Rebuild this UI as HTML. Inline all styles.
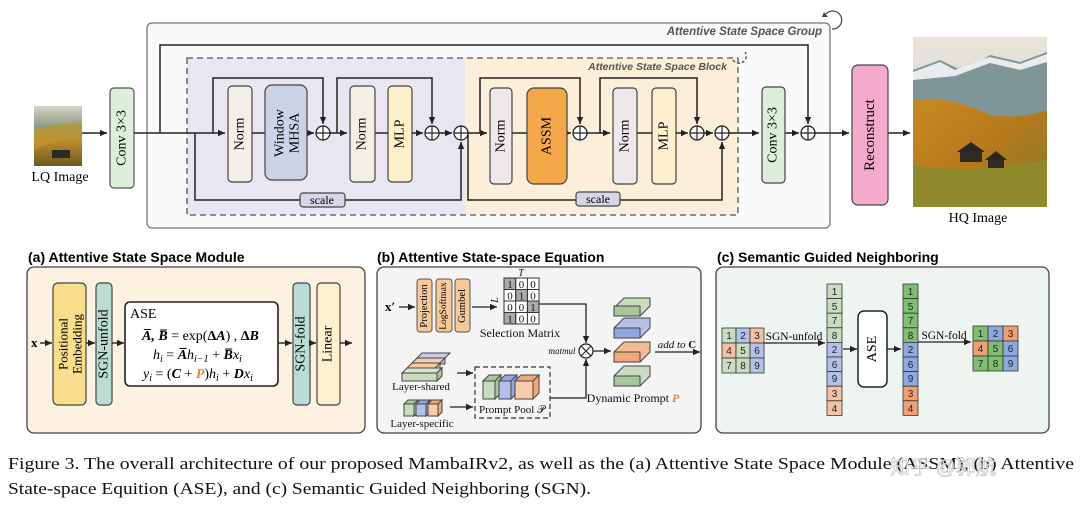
<!DOCTYPE html>
<html><head><meta charset="utf-8"><style>
html,body{margin:0;padding:0;background:#fff;}
svg{display:block;}
.s{font-family:"Liberation Serif",serif;}
.h{font-family:"Liberation Sans",sans-serif;font-weight:bold;}
</style></head><body>
<svg width="1080" height="507" viewBox="0 0 1080 507" xmlns="http://www.w3.org/2000/svg">
<defs>
<marker id="a" markerWidth="8" markerHeight="8" refX="7" refY="4" orient="auto" markerUnits="userSpaceOnUse"><path d="M0,0.8 L7,4 L0,7.2 z" fill="#222"/></marker>
<linearGradient id="sky" x1="0" y1="0" x2="0" y2="1"><stop offset="0" stop-color="#e8e4dc"/><stop offset="1" stop-color="#c9cfcf"/></linearGradient>
<linearGradient id="hill" x1="0" y1="0" x2="1" y2="1"><stop offset="0" stop-color="#c78a22"/><stop offset="0.5" stop-color="#b67a1c"/><stop offset="1" stop-color="#7d7a2a"/></linearGradient>
<linearGradient id="lq" x1="0" y1="0" x2="0" y2="1"><stop offset="0" stop-color="#d8d4c8"/><stop offset="0.35" stop-color="#8a9a80"/><stop offset="0.6" stop-color="#b98a2a"/><stop offset="1" stop-color="#6b5a22"/></linearGradient>
</defs>

<!-- LQ image -->
<rect x="34" y="106" width="48" height="60" fill="url(#lq)"/>
<path d="M34,130 Q50,125 82,122 L82,140 Q60,138 34,150 z" fill="#c0962e" opacity="0.7"/>
<rect x="52" y="150" width="18" height="8" fill="#2c2a26"/>
<text x="60" y="181" class="s" font-size="14" text-anchor="middle">LQ Image</text>
<line x1="82" y1="133" x2="107" y2="133" stroke="#222" stroke-width="1.5" marker-end="url(#a)"/>

<!-- Conv1 -->
<rect x="110" y="88" width="24" height="100" rx="4" fill="#dcefd8" stroke="#555" stroke-width="1.2"/>
<text class="s" font-size="14" text-anchor="middle" dominant-baseline="central" transform="translate(122,138) rotate(-90)">Conv 3×3</text>

<!-- Group box -->
<rect x="147" y="23" width="683" height="205" rx="5" fill="#fafafa" stroke="#777" stroke-width="1.3"/>
<text x="822" y="35" class="h" font-style="italic" font-size="11.5" fill="#555" text-anchor="end">Attentive State Space Group</text>
<path d="M826,14 A9,9 0 1 1 832,29" fill="none" stroke="#444" stroke-width="1.2"/>
<path d="M824,12 l4,5 l-6,0z" fill="#444"/>

<!-- Block -->
<rect x="187" y="58" width="278" height="157" fill="#e8e6f1"/>
<rect x="465" y="58" width="273" height="157" fill="#fcefd9"/>
<rect x="187" y="58" width="551" height="157" fill="none" stroke="#555" stroke-width="1.3" stroke-dasharray="6,4"/>
<text x="727" y="70" class="h" font-style="italic" font-size="10.5" fill="#555" text-anchor="end">Attentive State Space Block</text>
<path d="M733,60 A7,7 0 1 0 745,52" fill="none" stroke="#444" stroke-width="1.2" stroke-dasharray="3,2"/>

<!-- main line -->
<g stroke="#222" stroke-width="1.5" fill="none">
<line x1="134" y1="133" x2="225" y2="133" marker-end="url(#a)"/>
<path d="M160,133 V45 H808 V124" marker-end="url(#a)"/>
<path d="M213,133 V78 H323 V124" marker-end="url(#a)"/>
<line x1="252" y1="133" x2="265" y2="133"/>
<line x1="307" y1="133" x2="314" y2="133" marker-end="url(#a)"/>
<line x1="330" y1="133" x2="347" y2="133" marker-end="url(#a)"/>
<path d="M337,133 V78 H432 V124" marker-end="url(#a)"/>
<line x1="375" y1="133" x2="388" y2="133"/>
<line x1="412" y1="133" x2="423" y2="133" marker-end="url(#a)"/>
<line x1="439" y1="133" x2="452" y2="133" marker-end="url(#a)"/>
<path d="M195,133 V200 H461 V142" marker-end="url(#a)"/>
<line x1="468" y1="133" x2="487" y2="133" marker-end="url(#a)"/>
<path d="M480,133 V78 H580 V124" marker-end="url(#a)"/>
<path d="M468,133 V200 H722 V142" marker-end="url(#a)"/>
<line x1="512" y1="133" x2="528" y2="133"/>
<line x1="567" y1="133" x2="571" y2="133" marker-end="url(#a)"/>
<line x1="587" y1="133" x2="610" y2="133" marker-end="url(#a)"/>
<path d="M600,133 V78 H697 V124" marker-end="url(#a)"/>
<line x1="637" y1="133" x2="652" y2="133"/>
<line x1="676" y1="133" x2="688" y2="133" marker-end="url(#a)"/>
<line x1="704" y1="133" x2="713" y2="133" marker-end="url(#a)"/>
<line x1="729" y1="133" x2="759" y2="133" marker-end="url(#a)"/>
<line x1="785" y1="133" x2="799" y2="133" marker-end="url(#a)"/>
<line x1="815" y1="133" x2="849" y2="133" marker-end="url(#a)"/>
<line x1="888" y1="133" x2="910" y2="133" marker-end="url(#a)"/>
</g>
<!-- plus circles -->
<g fill="#fff" stroke="#222" stroke-width="1.3">
<circle cx="323" cy="133" r="7"/><circle cx="432" cy="133" r="7"/><circle cx="461" cy="133" r="7"/>
<circle cx="580" cy="133" r="7"/><circle cx="697" cy="133" r="7"/><circle cx="722" cy="133" r="7"/><circle cx="808" cy="133" r="7"/>
</g>
<g stroke="#222" stroke-width="1.2">
<path d="M316,133h14M323,126v14M425,133h14M432,126v14M454,133h14M461,126v14M573,133h14M580,126v14M690,133h14M697,126v14M715,133h14M722,126v14M801,133h14M808,126v14"/>
</g>

<!-- purple blocks -->
<g stroke="#444" stroke-width="1.2">
<rect x="228" y="86" width="24" height="96" rx="4" fill="#f3efe4"/>
<rect x="265" y="85" width="42" height="95" rx="7" fill="#cdd3e6"/>
<rect x="350" y="86" width="25" height="96" rx="4" fill="#f3efe4"/>
<rect x="388" y="86" width="24" height="96" rx="4" fill="#fdefc8"/>
<rect x="490" y="88" width="22" height="96" rx="4" fill="#ede8ea"/>
<rect x="527" y="88" width="40" height="96" rx="7" fill="#f5a84a"/>
<rect x="613" y="88" width="24" height="96" rx="4" fill="#ede8ea"/>
<rect x="652" y="88" width="24" height="96" rx="4" fill="#fdefcc"/>
<rect x="762" y="87" width="23" height="96" rx="4" fill="#dcefd8"/>
<rect x="852" y="65" width="36" height="140" rx="6" fill="#f5a9cb"/>
<rect x="300" y="193" width="45" height="14" rx="3" fill="#d9d4ea"/>
<rect x="576" y="192" width="44" height="14" rx="3" fill="#d9d4ea"/>
</g>
<g class="s" font-size="14" text-anchor="middle" dominant-baseline="central">
<text transform="translate(240,134) rotate(-90)">Norm</text>
<text transform="translate(280,133) rotate(-90)">Window</text>
<text transform="translate(295,133) rotate(-90)">MHSA</text>
<text transform="translate(362,134) rotate(-90)">Norm</text>
<text transform="translate(400,134) rotate(-90)">MLP</text>
<text transform="translate(501,136) rotate(-90)">Norm</text>
<text transform="translate(547,136) rotate(-90)">ASSM</text>
<text transform="translate(625,136) rotate(-90)">Norm</text>
<text transform="translate(664,136) rotate(-90)">MLP</text>
<text transform="translate(773,135) rotate(-90)">Conv 3×3</text>
<text transform="translate(870,135) rotate(-90)" font-size="15">Reconstruct</text>
<text x="322" y="200" font-size="12">scale</text>
<text x="598" y="199" font-size="12">scale</text>
</g>

<!-- HQ image -->
<rect x="913" y="37" width="134" height="170" fill="url(#sky)"/>
<path d="M913,70 L940,60 L965,72 L990,55 L1020,62 L1047,52 L1047,140 L913,140 z" fill="#7e9698"/>
<path d="M913,72 L940,62 L955,70 L990,57 L1020,64 L1047,54 L1047,62 L1020,70 L990,63 L955,76 L913,80z" fill="#e9ecec"/>
<path d="M913,100 Q950,95 990,115 Q1020,120 1047,110 L1047,207 L913,207 z" fill="url(#hill)"/>
<path d="M913,165 Q970,175 1047,160 L1047,207 L913,207z" fill="#8e8a2c"/>
<rect x="960" y="150" width="22" height="12" fill="#2f2a24"/>
<path d="M957,152 L971,142 L985,152z" fill="#2a2622"/>
<rect x="988" y="158" width="16" height="10" fill="#2f2a24"/>
<path d="M985,160 L996,151 L1007,160z" fill="#2a2622"/>
<text x="978" y="222" class="s" font-size="14" text-anchor="middle">HQ Image</text>

<!-- Panel titles -->
<text x="28" y="262" class="h" font-size="14">(a) Attentive State Space Module</text>
<text x="377" y="262" class="h" font-size="14">(b) Attentive State-space Equation</text>
<text x="717" y="262" class="h" font-size="14">(c) Semantic Guided Neighboring</text>

<!-- (a) -->
<rect x="27" y="267" width="338" height="166" rx="7" fill="#fdf1e2" stroke="#444" stroke-width="1.3"/>
<g stroke="#444" stroke-width="1.2">
<rect x="53" y="283" width="33" height="122" rx="5" fill="#f8dd8a"/>
<rect x="96" y="283" width="16" height="122" rx="4" fill="#b9ddd2"/>
<rect x="125" y="302" width="153" height="84" rx="5" fill="#fff" stroke="#222" stroke-width="1.6"/>
<rect x="293" y="283" width="17" height="122" rx="4" fill="#b9ddd2"/>
<rect x="317" y="283" width="23" height="122" rx="4" fill="#fdf2cd"/>
</g>
<g stroke="#222" stroke-width="1.4">
<line x1="40" y1="343" x2="52" y2="343" marker-end="url(#a)"/>
<line x1="86" y1="343" x2="95" y2="343" marker-end="url(#a)"/>
<line x1="112" y1="343" x2="124" y2="343" marker-end="url(#a)"/>
<line x1="278" y1="343" x2="292" y2="343" marker-end="url(#a)"/>
<line x1="310" y1="343" x2="316" y2="343" marker-end="url(#a)"/>
<line x1="340" y1="343" x2="352" y2="343" marker-end="url(#a)"/>
</g>
<text x="31" y="347" class="s" font-size="13" font-weight="bold">x</text>
<g class="s" font-size="13" text-anchor="middle" dominant-baseline="central">
<text transform="translate(63,344) rotate(-90)">Positional</text>
<text transform="translate(77,344) rotate(-90)">Embedding</text>
<text transform="translate(104,344) rotate(-90)" font-size="14">SGN-unfold</text>
<text transform="translate(301,344) rotate(-90)" font-size="14">SGN-fold</text>
<text transform="translate(328,344) rotate(-90)" font-size="14">Linear</text>
</g>
<g class="s" font-size="14">
<text x="130" y="318">ASE</text>
<text x="142" y="340"><tspan font-weight="bold" font-style="italic">A̅, B̅</tspan> = exp(<tspan font-weight="bold">Δ</tspan><tspan font-style="italic" font-weight="bold">A</tspan>) , <tspan font-weight="bold">Δ</tspan><tspan font-weight="bold" font-style="italic">B</tspan></text>
<text x="153" y="359" font-style="italic">h<tspan font-size="10" dy="3">i</tspan><tspan dy="-3" font-style="normal"> = </tspan><tspan font-weight="bold">A̅</tspan>h<tspan font-size="10" dy="3">i−1</tspan><tspan dy="-3" font-style="normal"> + </tspan><tspan font-weight="bold">B̅</tspan>x<tspan font-size="10" dy="3">i</tspan></text>
<text x="143" y="378" font-style="italic">y<tspan font-size="10" dy="3">i</tspan><tspan dy="-3" font-style="normal"> = (</tspan><tspan font-weight="bold">C</tspan><tspan font-style="normal"> + </tspan><tspan font-weight="bold" fill="#e08a3c">P</tspan><tspan font-style="normal">)</tspan>h<tspan font-size="10" dy="3">i</tspan><tspan dy="-3" font-style="normal"> + </tspan><tspan font-weight="bold">D</tspan>x<tspan font-size="10" dy="3">i</tspan></text>
</g>

<!-- (b) -->
<rect x="377" y="267" width="324" height="166" rx="7" fill="#f4f4f4" stroke="#444" stroke-width="1.3"/>
<text x="385" y="311" class="s" font-size="13" font-weight="bold">x′</text>
<g stroke="#222" stroke-width="1.3">
<line x1="399" y1="307" x2="415" y2="307" marker-end="url(#a)"/>
<line x1="472" y1="307" x2="497" y2="307" marker-end="url(#a)"/>
<path d="M539,304 H586 V343" fill="none" marker-end="url(#a)"/>
<path d="M550,398 H586 V359" fill="none" marker-end="url(#a)"/>
<line x1="593" y1="351" x2="611" y2="351" marker-end="url(#a)"/>
<line x1="655" y1="352" x2="700" y2="352" marker-end="url(#a)"/>
<line x1="457" y1="373" x2="473" y2="373" marker-end="url(#a)"/>
<line x1="450" y1="407" x2="473" y2="407" marker-end="url(#a)"/>
</g>
<g stroke="#555" stroke-width="1">
<rect x="417" y="279" width="15" height="53" rx="3" fill="#f7c898"/>
<rect x="436" y="279" width="16" height="53" rx="3" fill="#f7c898"/>
<rect x="455" y="279" width="15" height="53" rx="3" fill="#f7c898"/>
</g>
<g class="s" font-size="10.5" text-anchor="middle" dominant-baseline="central">
<text transform="translate(424.5,306) rotate(-90)">Projection</text>
<text transform="translate(444,306) rotate(-90)" font-size="9.5">LogSoftmax</text>
<text transform="translate(462.5,306) rotate(-90)">Gumbel</text>
</g>
<!-- matrix -->
<g stroke="#333" stroke-width="1" font-family="Liberation Serif,serif" font-size="11" text-anchor="middle">
<rect x="504" y="278" width="35" height="46" fill="#fff"/>
<rect x="504" y="278" width="11.7" height="11.5" fill="#aaa"/>
<rect x="515.7" y="289.5" width="11.7" height="11.5" fill="#aaa"/>
<rect x="527.4" y="301" width="11.6" height="11.5" fill="#aaa"/>
<rect x="504" y="312.5" width="11.7" height="11.5" fill="#aaa"/>
<path d="M515.7,278V324M527.4,278V324M504,289.5H539M504,301H539M504,312.5H539" fill="none"/>
</g>
<g class="s" font-size="11" text-anchor="middle" fill="#111">
<text x="510" y="288">1</text><text x="521.5" y="288">0</text><text x="533" y="288">0</text>
<text x="510" y="299.5">0</text><text x="521.5" y="299.5">1</text><text x="533" y="299.5">0</text>
<text x="510" y="311">0</text><text x="521.5" y="311">0</text><text x="533" y="311">1</text>
<text x="510" y="322.5">1</text><text x="521.5" y="322.5">0</text><text x="533" y="322.5">0</text>
<text x="521" y="276" font-style="italic" font-size="10">T</text>
<text transform="translate(498,300) rotate(-90)" font-style="italic" font-size="10">L</text>
<text x="520" y="337" font-size="12">Selection Matrix</text>
<text x="562" y="354" font-style="italic" font-size="9">matmul</text>
<text x="633" y="402" font-size="12">Dynamic Prompt <tspan fill="#e08a3c" font-weight="bold" font-style="italic">P</tspan></text>
<text x="677" y="348" font-style="italic" font-size="11">add to <tspan font-weight="bold" font-style="normal">C</tspan></text>
<text x="421" y="390" font-size="11">Layer-shared</text>
<text x="422" y="427" font-size="11">Layer-specific</text>
<text x="512" y="413" font-size="11">Prompt Pool 𝒫</text>
</g>
<circle cx="586" cy="351" r="7" fill="#fff" stroke="#222" stroke-width="1.2"/>
<path d="M581,346l10,10M591,346l-10,10" stroke="#222" stroke-width="1.2"/>
<!-- dynamic prompt stack -->
<g stroke="#444" stroke-width="1">
<path d="M614,316 h26 l10,-10 v-8 h-26 l-10,10z" fill="#c9dcbf"/>
<path d="M614,338 h26 l10,-10 v-10 h-26 l-10,10z" fill="#b3c0e8"/>
<path d="M614,362 h26 l10,-10 v-10 h-26 l-10,10z" fill="#f4bb90"/>
<path d="M614,386 h26 l10,-10 v-10 h-26 l-10,10z" fill="#c9dcbf"/>
<rect x="614" y="306" width="26" height="10" fill="#a8c79a"/>
<rect x="614" y="328" width="26" height="10" fill="#92a6e0"/>
<rect x="614" y="352" width="26" height="10" fill="#f1a878"/>
<rect x="614" y="376" width="26" height="10" fill="#a8c79a"/>
</g>
<!-- layer-shared cubes -->
<g stroke="#444" stroke-width="1">
<path d="M417,358 h28 l5,-5 h-28z" fill="#c4d0ee"/><rect x="417" y="358" width="28" height="6" fill="#b3c0e8"/>
<path d="M412,363 h28 l5,-5 h-28z" fill="#f7ccaa"/><rect x="412" y="363" width="28" height="6" fill="#f4bb90"/>
<path d="M407,368 h28 l5,-5 h-28z" fill="#f7ccaa"/><rect x="407" y="368" width="28" height="6" fill="#f4bb90"/>
<path d="M402,373 h35 l5,-5 h-35z" fill="#d6e6cc"/><rect x="402" y="373" width="35" height="8" fill="#c9dcbf"/><path d="M437,373 l5,-5 v8 l-5,5z" fill="#a8c79a"/>
</g>
<g stroke="#444" stroke-width="1">
<rect x="404" y="404" width="10" height="12" fill="#c9dcbf"/><path d="M404,404 l4,-4 h10 l-4,4z M414,404 l4,-4 v12 l-4,4z" fill="#a8c79a"/>
<rect x="416" y="404" width="10" height="12" fill="#b3c0e8"/><path d="M416,404 l4,-4 h10 l-4,4z M426,404 l4,-4 v12 l-4,4z" fill="#92a6e0"/>
<rect x="428" y="404" width="10" height="12" fill="#f7ccaa"/><path d="M428,404 l4,-4 h10 l-4,4z M438,404 l4,-4 v12 l-4,4z" fill="#f1a878"/>
</g>
<rect x="475" y="367" width="75" height="51" fill="none" stroke="#333" stroke-width="1.2" stroke-dasharray="5,3"/>
<g stroke="#444" stroke-width="1">
<rect x="483" y="381" width="12" height="18" fill="#c9dcbf"/><path d="M483,381 l6,-6 h12 l-6,6z M495,381 l6,-6 v18 l-6,6z" fill="#a8c79a"/>
<rect x="499" y="381" width="12" height="18" fill="#b3c0e8"/><path d="M499,381 l6,-6 h12 l-6,6z M511,381 l6,-6 v18 l-6,6z" fill="#92a6e0"/>
<rect x="515" y="381" width="18" height="18" fill="#f7ccaa"/><path d="M515,381 l6,-6 h18 l-6,6z M533,381 l6,-6 v18 l-6,6z" fill="#f1a878"/>
</g>

<!-- (c) -->
<rect x="716" y="267" width="333" height="166" rx="7" fill="#eef5f1" stroke="#444" stroke-width="1.3"/>
<g stroke="#333" stroke-width="0.8" font-family="Liberation Sans,sans-serif" font-size="10" text-anchor="middle">
<rect x="722" y="328" width="14" height="15" fill="#c9dcbf"/><rect x="736" y="328" width="14" height="15" fill="#b3c0e8"/><rect x="750" y="328" width="14" height="15" fill="#f4c2a2"/>
<rect x="722" y="343" width="14" height="15" fill="#f4c2a2"/><rect x="736" y="343" width="14" height="15" fill="#c9dcbf"/><rect x="750" y="343" width="14" height="15" fill="#b3c0e8"/>
<rect x="722" y="358" width="14" height="15" fill="#c9dcbf"/><rect x="736" y="358" width="14" height="15" fill="#c9dcbf"/><rect x="750" y="358" width="14" height="15" fill="#b3c0e8"/>
<rect x="973" y="326" width="15" height="15" fill="#7fc070"/><rect x="988" y="326" width="15" height="15" fill="#8ea8e2"/><rect x="1003" y="326" width="15" height="15" fill="#f0a070"/>
<rect x="973" y="341" width="15" height="15" fill="#f0a070"/><rect x="988" y="341" width="15" height="15" fill="#7fc070"/><rect x="1003" y="341" width="15" height="15" fill="#8ea8e2"/>
<rect x="973" y="356" width="15" height="15" fill="#7fc070"/><rect x="988" y="356" width="15" height="15" fill="#7fc070"/><rect x="1003" y="356" width="15" height="15" fill="#8ea8e2"/>
</g>
<g font-family="Liberation Sans,sans-serif" font-size="10" text-anchor="middle" fill="#222">
<text x="729" y="339">1</text><text x="743" y="339">2</text><text x="757" y="339">3</text>
<text x="729" y="354">4</text><text x="743" y="354">5</text><text x="757" y="354">6</text>
<text x="729" y="369">7</text><text x="743" y="369">8</text><text x="757" y="369">9</text>
<text x="980.5" y="337">1</text><text x="995.5" y="337">2</text><text x="1010.5" y="337">3</text>
<text x="980.5" y="352">4</text><text x="995.5" y="352">5</text><text x="1010.5" y="352">6</text>
<text x="980.5" y="367">7</text><text x="995.5" y="367">8</text><text x="1010.5" y="367">9</text>
</g>
<g stroke="#333" stroke-width="0.8">
<rect x="827" y="284" width="15" height="14.6" fill="#c9dcbf"/><rect x="827" y="298.6" width="15" height="14.6" fill="#c9dcbf"/><rect x="827" y="313.2" width="15" height="14.6" fill="#c9dcbf"/><rect x="827" y="327.8" width="15" height="14.6" fill="#c9dcbf"/>
<rect x="827" y="342.4" width="15" height="14.6" fill="#b3c0e8"/><rect x="827" y="357" width="15" height="14.6" fill="#b3c0e8"/><rect x="827" y="371.6" width="15" height="14.6" fill="#b3c0e8"/>
<rect x="827" y="386.2" width="15" height="14.6" fill="#f4c2a2"/><rect x="827" y="400.8" width="15" height="14.6" fill="#f4c2a2"/>
<rect x="903" y="284" width="15" height="14.6" fill="#7fc070"/><rect x="903" y="298.6" width="15" height="14.6" fill="#7fc070"/><rect x="903" y="313.2" width="15" height="14.6" fill="#7fc070"/><rect x="903" y="327.8" width="15" height="14.6" fill="#7fc070"/>
<rect x="903" y="342.4" width="15" height="14.6" fill="#8ea8e2"/><rect x="903" y="357" width="15" height="14.6" fill="#8ea8e2"/><rect x="903" y="371.6" width="15" height="14.6" fill="#8ea8e2"/>
<rect x="903" y="386.2" width="15" height="14.6" fill="#f0a070"/><rect x="903" y="400.8" width="15" height="14.6" fill="#f0a070"/>
</g>
<g font-family="Liberation Sans,sans-serif" font-size="10" text-anchor="middle" fill="#222">
<text x="834.5" y="295">1</text><text x="834.5" y="310">5</text><text x="834.5" y="324">7</text><text x="834.5" y="339">8</text><text x="834.5" y="353">2</text><text x="834.5" y="368">6</text><text x="834.5" y="382">9</text><text x="834.5" y="397">3</text><text x="834.5" y="412">4</text>
<text x="910.5" y="295">1</text><text x="910.5" y="310">5</text><text x="910.5" y="324">7</text><text x="910.5" y="339">8</text><text x="910.5" y="353">2</text><text x="910.5" y="368">6</text><text x="910.5" y="382">9</text><text x="910.5" y="397">3</text><text x="910.5" y="412">4</text>
</g>
<rect x="858" y="311" width="29" height="76" rx="6" fill="#fff" stroke="#222" stroke-width="1.5"/>
<text transform="translate(872.5,349) rotate(-90)" class="s" font-size="14" text-anchor="middle" dominant-baseline="central">ASE</text>
<g stroke="#222" stroke-width="1.3">
<line x1="764" y1="343" x2="825" y2="343" marker-end="url(#a)"/>
<line x1="843" y1="349" x2="857" y2="349" marker-end="url(#a)"/>
<line x1="887" y1="349" x2="901" y2="349" marker-end="url(#a)"/>
<line x1="918" y1="342" x2="971" y2="342" marker-end="url(#a)"/>
</g>
<text x="794" y="340" class="s" font-size="11.5" text-anchor="middle">SGN-unfold</text>
<text x="944" y="339" class="s" font-size="11.5" text-anchor="middle">SGN-fold</text>

<!-- caption -->
<g class="s" font-size="16.5" fill="#111">
<text x="8" y="469" textLength="1066" lengthAdjust="spacingAndGlyphs">Figure 3.  The overall architecture of our proposed MambaIRv2, as well as the (a) Attentive State Space Module (ASSM), (b) Attentive</text>
<text x="8" y="494" textLength="583" lengthAdjust="spacingAndGlyphs">State-space Equition (ASE), and (c) Semantic Guided Neighboring (SGN).</text>
</g>
<text x="890" y="474" font-family="Liberation Sans,'Noto Sans CJK SC',sans-serif" font-size="20" fill="#ffffff" fill-opacity="0.75" stroke="#bbb" stroke-width="0.6">知乎 @郭航</text>
</svg>
</body></html>
